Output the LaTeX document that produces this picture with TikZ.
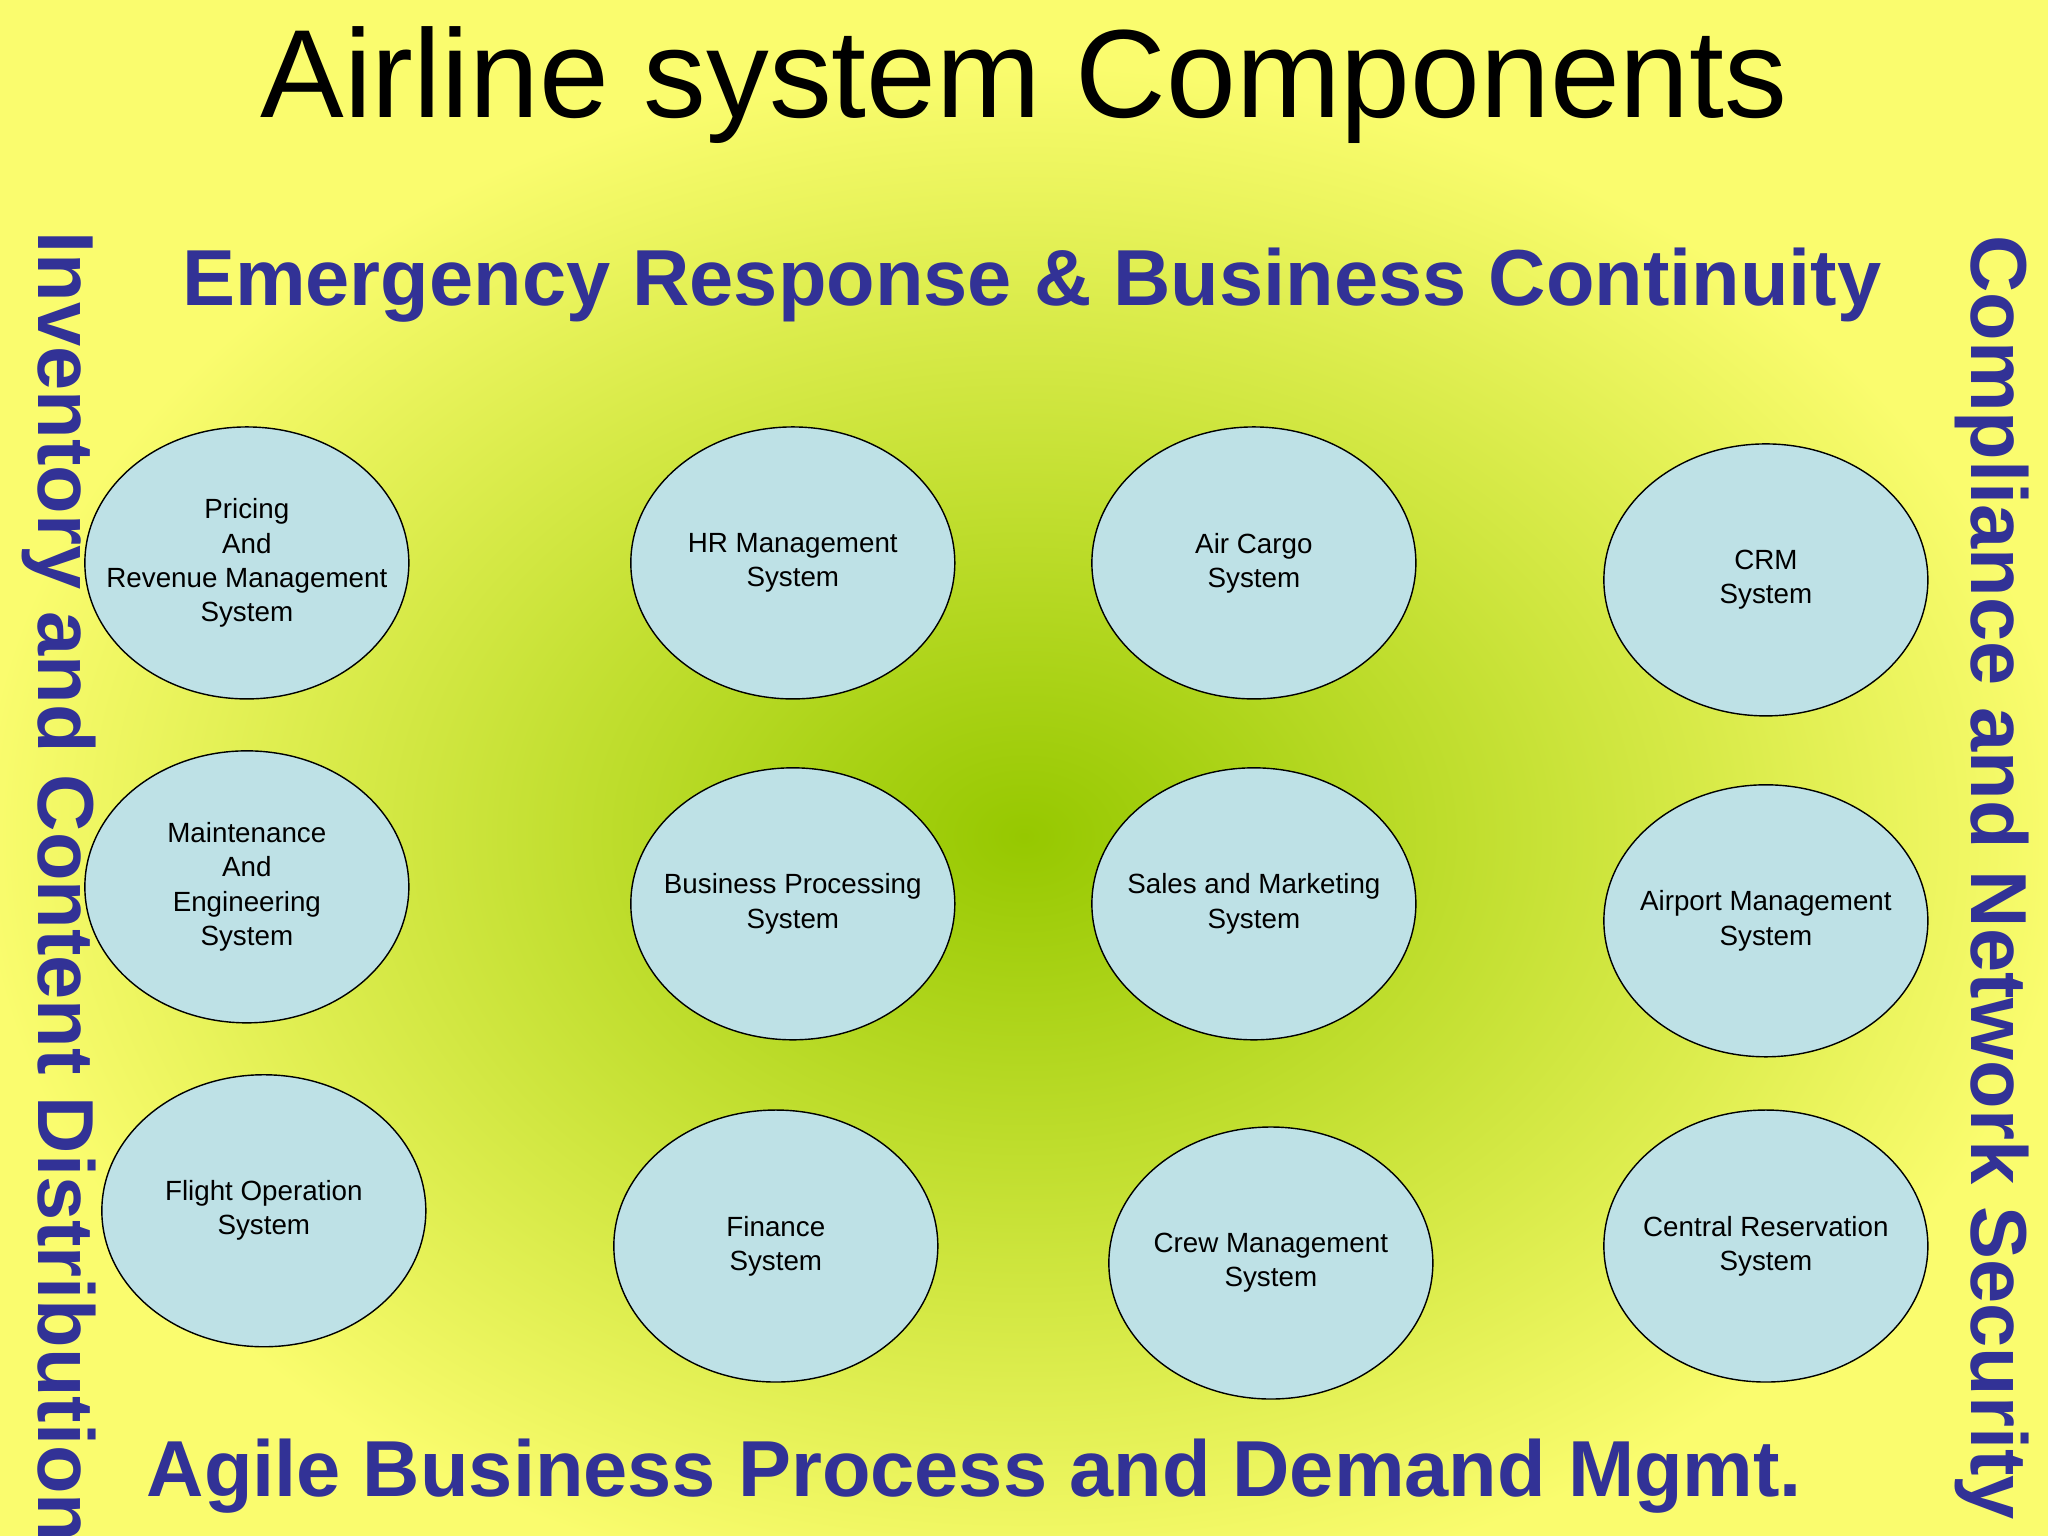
\documentclass[tikz,border=0pt]{standalone}
\usepackage{fontspec}
\setmainfont{Liberation Sans}
\usetikzlibrary{shapes.geometric}
\definecolor{bgy}{RGB}{250,252,110}
\definecolor{bgg}{RGB}{150,200,0}
\definecolor{ell}{RGB}{190,225,230}
\definecolor{hd}{RGB}{50,50,150}
\begin{document}
\begin{tikzpicture}[x=0.013061cm,y=-0.013061cm,
  sys/.style={draw=black,fill=ell,shape=ellipse,minimum width=3.24cm,minimum height=2.72cm,inner xsep=-25pt,inner ysep=0pt,align=center,font=\fontsize{7.9}{9.7}\selectfont},
  hdr/.style={text=hd,font=\fontsize{22.6}{26}\selectfont\bfseries}]
\clip (0,0) rectangle (1568,1176);
\useasboundingbox (0,0) rectangle (1568,1176);
\fill[bgy] (0,0) rectangle (1568,1176);
\shade[inner color=bgg,outer color=bgy] (784,640) ellipse (800 and 590);
\node (title) at (784,65) {\fontsize{35.7}{40}\selectfont Airline system Components};
\node[hdr] (top) at (790,218) {Emergency Response \& Business Continuity};
\node[hdr] (bot) at (746,1130) {Agile Business Process and Demand Mgmt.};
\node[hdr,rotate=-90,anchor=west] (left) at (45,168) {Inventory and Content Distribution};
\node[hdr,rotate=-90] (right) at (1525,672) {Compliance and Network Security};
\node[sys] (p) at (189,431) {Pricing\\And\\Revenue Management\\System};
\node[sys] (m) at (189,679) {Maintenance\\And\\Engineering\\System};
\node[sys] (f) at (202,927) {Flight Operation\\System};
\node[sys] (hr) at (607,431) {HR Management\\System};
\node[sys] (bp) at (607,692) {Business Processing\\System};
\node[sys] (fi) at (594,954) {Finance\\System};
\node[sys] (ac) at (960,431) {Air Cargo\\System};
\node[sys] (sm) at (960,692) {Sales and Marketing\\System};
\node[sys] (cm) at (973,967) {Crew Management\\System};
\node[sys] (crm) at (1352,444) {CRM\\System};
\node[sys] (am) at (1352,705) {Airport Management\\System};
\node[sys] (cr) at (1352,954) {Central Reservation\\System};
\end{tikzpicture}
\end{document}
